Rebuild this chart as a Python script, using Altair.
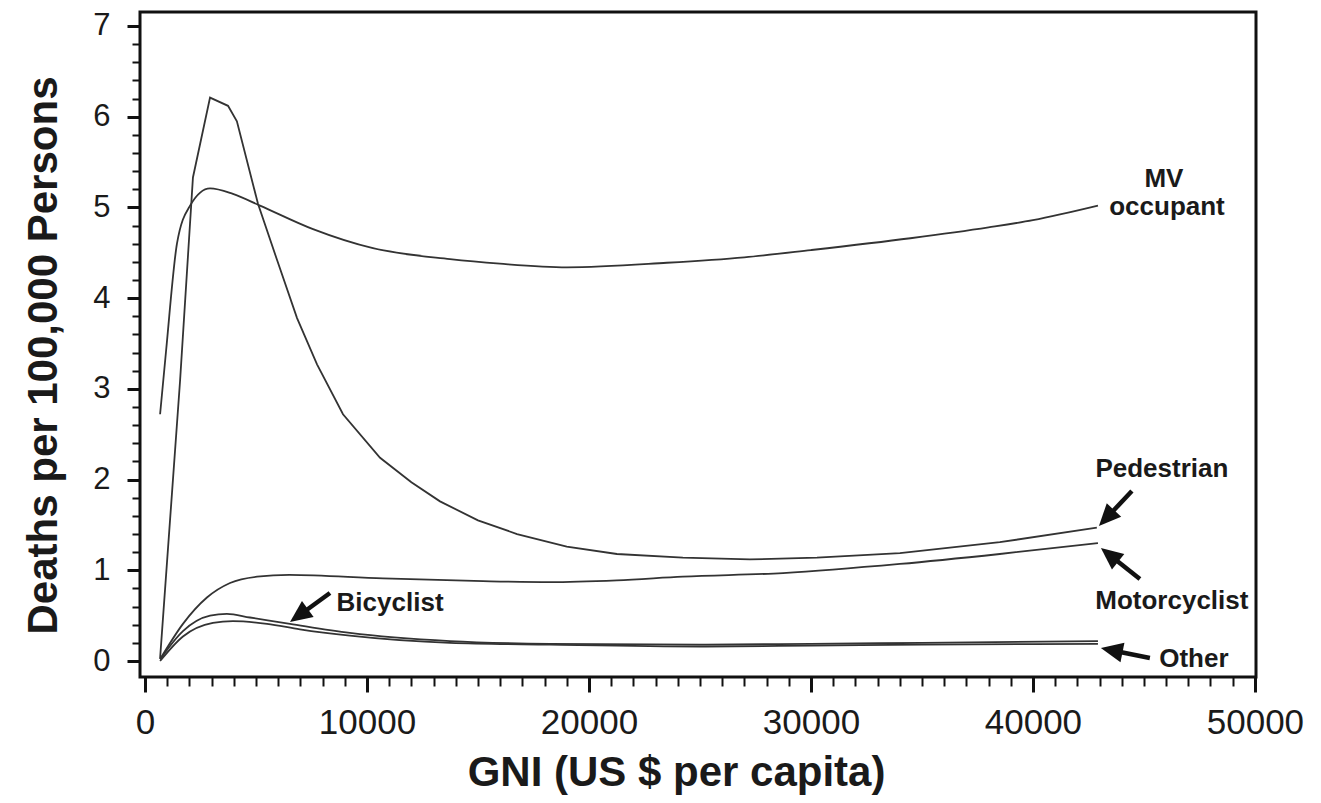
import math
import altair as alt
import pandas as pd

# ---------------- data ----------------
ped_x = [680, 1580, 2160, 2930, 3740, 4140, 5090, 5950, 6850, 7750, 8920, 10590, 12000,
         13290, 15000, 16760, 19000, 21260, 24230, 27250, 30270, 34010, 38510, 42880]
ped_y = [0.03, 3.09, 5.33, 6.21, 6.12, 5.95, 5.04, 4.42, 3.78, 3.27, 2.72, 2.24, 1.97,
         1.76, 1.55, 1.40, 1.26, 1.18, 1.14, 1.12, 1.14, 1.19, 1.31, 1.47]

mv_x = [680, 950, 1440, 2030, 2930, 3960, 5180, 7570, 10270, 13740, 15990, 19010,
        23510, 27000, 30000, 34480, 38000, 40000, 42930]
mv_y = [2.72, 3.42, 4.60, 5.02, 5.21, 5.15, 5.02, 4.76, 4.55, 4.43, 4.38, 4.34,
        4.39, 4.45, 4.53, 4.66, 4.78, 4.86, 5.02]

mc_x = [680, 1710, 2790, 3830, 5050, 6500, 10720, 15230, 18240, 21260, 24230, 28740,
        34010, 38510, 42930]
mc_y = [0.02, 0.41, 0.70, 0.86, 0.93, 0.95, 0.91, 0.88, 0.87, 0.89, 0.93, 0.97,
        1.07, 1.18, 1.30]

bi_x = [680, 1710, 2930, 3690, 4730, 6530, 9230, 13740, 18240, 25000, 30000, 35000, 42930]
bi_y = [0.02, 0.33, 0.50, 0.52, 0.48, 0.41, 0.31, 0.22, 0.19, 0.18, 0.19, 0.20, 0.22]

ot_x = [680, 1710, 3060, 3960, 5500, 6980, 9230, 13740, 18240, 25000, 30000, 35000, 42930]
ot_y = [0.00, 0.27, 0.42, 0.44, 0.41, 0.35, 0.28, 0.20, 0.18, 0.16, 0.17, 0.18, 0.19]

# annotation labels (data units)
label_text = ["MV", "occupant", "Pedestrian", "Motorcyclist", "Other", "Bicyclist"]
label_x = [45900, 46040, 45810, 46260, 47250, 11040]
label_y = [5.31, 5.005, 2.117, 0.661, 0.022, 0.639]

# arrows: tail -> tip (data units)
arrow_tail_x = [44459, 44820, 45270, 8333]
arrow_tail_y = [1.874, 0.904, 0.033, 0.750]
arrow_tip_x = [42973, 43063, 43063, 6532]
arrow_tip_y = [1.488, 1.246, 0.143, 0.430]

x_ticks = list(range(0, 50001, 1000))
y_ticks = [round(0.2 * i, 1) for i in range(36)]

# ---------------- layout ----------------
W, H = 1116, 665
XDOM = [-225, 50050]
YDOM = [-0.176, 7.154]
FONT = "Liberation Sans"
LINE_COLOR = "#333333"
TEXT_COLOR = "#1a1a1a"


def to_px(x, y):
    return ((x - XDOM[0]) / (XDOM[1] - XDOM[0]) * W,
            H - (y - YDOM[0]) / (YDOM[1] - YDOM[0]) * H)


def to_data(px, py):
    return (XDOM[0] + px / W * (XDOM[1] - XDOM[0]),
            YDOM[0] + (H - py) / H * (YDOM[1] - YDOM[0]))


rows = []
for name, xs, ys in [("MV occupant", mv_x, mv_y), ("Motorcyclist", mc_x, mc_y),
                     ("Bicyclist", bi_x, bi_y), ("Other", ot_x, ot_y)]:
    for a, b in zip(xs, ys):
        rows.append({"series": name, "gni": a, "deaths": b})
smooth_df = pd.DataFrame(rows)
ped_df = pd.DataFrame({"series": "Pedestrian", "gni": ped_x, "deaths": ped_y})

arrows = []
for tx, ty, hx, hy in zip(arrow_tail_x, arrow_tail_y, arrow_tip_x, arrow_tip_y):
    tpx, tpy = to_px(tx, ty)
    hpx, hpy = to_px(hx, hy)
    dx, dy = hpx - tpx, hpy - tpy
    L = math.hypot(dx, dy)
    ux, uy = dx / L, dy / L
    ang = math.degrees(math.atan2(dx, -dy)) % 360
    ex, ey = to_data(hpx - 12 * ux, hpy - 12 * uy)
    arrows.append({"tx": tx, "ty": ty, "ex": ex, "ey": ey, "hx": hx, "hy": hy, "angle": ang})
arrow_df = pd.DataFrame(arrows)
label_df = pd.DataFrame({"text": label_text, "x": label_x, "y": label_y})

xscale = alt.Scale(domain=XDOM, nice=False, zero=False)
yscale = alt.Scale(domain=YDOM, nice=False, zero=False)

XMAJ = "datum.value % 10000 === 0"
YMAJ = "abs(datum.value - round(datum.value)) < 0.001"

x_axis = alt.Axis(
    values=x_ticks,
    labelExpr=f"{XMAJ} ? format(datum.value, 'd') : ''",
    tickSize={"condition": {"test": XMAJ, "value": 15}, "value": 9},
    tickWidth={"condition": {"test": XMAJ, "value": 3}, "value": 2},
    tickColor="#111111", domain=False, grid=False,
    labelFont=FONT, labelFontSize=35, labelColor=TEXT_COLOR, labelPadding=13,
    labelOverlap=False, labelFlush=False,
    title="GNI (US $ per capita)", titleFont=FONT, titleFontSize=42,
    titleFontWeight="bold", titleColor=TEXT_COLOR,
    titleX=536, titleY=108, titleAlign="center", titleBaseline="alphabetic",
)
y_axis = alt.Axis(
    values=y_ticks,
    labelExpr=f"{YMAJ} ? format(datum.value, 'd') : ''",
    tickSize={"condition": {"test": YMAJ, "value": 13}, "value": 8},
    tickWidth={"condition": {"test": YMAJ, "value": 3}, "value": 2},
    tickColor="#111111", domain=False, grid=False,
    labelFont=FONT, labelFontSize=31, labelColor=TEXT_COLOR, labelPadding=17,
    labelOverlap=False, labelFlush=False,
    title="Deaths per 100,000 Persons", titleFont=FONT, titleFontSize=42,
    titleFontWeight="bold", titleColor=TEXT_COLOR,
    titleAngle=270, titleX=-84, titleY=343, titleAlign="center", titleBaseline="alphabetic",
)


def X(field):
    return alt.X(field, scale=xscale, axis=x_axis)


def Y(field):
    return alt.Y(field, scale=yscale, axis=y_axis)


smooth = alt.Chart(smooth_df).mark_line(
    interpolate="monotone", color=LINE_COLOR, strokeWidth=1.8
).encode(x=X("gni:Q"), y=Y("deaths:Q"), detail="series:N")

ped = alt.Chart(ped_df).mark_line(color=LINE_COLOR, strokeWidth=1.8).encode(
    x=X("gni:Q"), y=Y("deaths:Q"),
)

shafts = alt.Chart(arrow_df).mark_rule(color="#111111", strokeWidth=4.5).encode(
    x=X("tx:Q"), y=Y("ty:Q"), x2="ex:Q", y2="ey:Q",
)

heads = alt.Chart(arrow_df).mark_point(
    shape="M0,0L-0.9,2L0.9,2Z", filled=True, size=484, color="#111111", opacity=1, strokeWidth=0
).encode(
    x=X("hx:Q"), y=Y("hy:Q"),
    angle=alt.Angle("angle:Q", scale=None),
)

labels = alt.Chart(label_df).mark_text(
    font=FONT, fontSize=26, fontWeight="bold", color=TEXT_COLOR,
    align="center", baseline="middle"
).encode(x=X("x:Q"), y=Y("y:Q"), text="text:N")

chart = alt.layer(smooth, ped, shafts, heads, labels).properties(
    width=W, height=H,
    autosize=alt.AutoSizeParams(type="none"),
    padding={"left": 132, "top": 4, "right": 57, "bottom": 118},
    background="white",
).configure_view(stroke="#111111", strokeWidth=3)

chart.save("out.html", embed_options={"renderer": "svg", "actions": False})
